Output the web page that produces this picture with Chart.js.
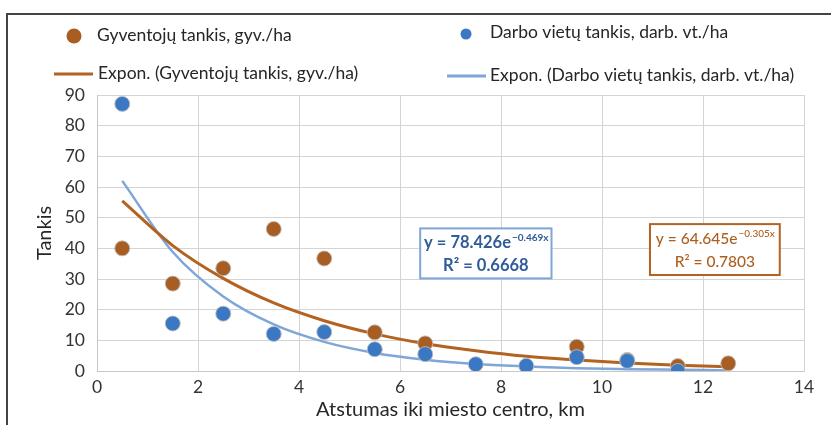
<!DOCTYPE html>
<html>
<head>
<meta charset="utf-8">
<script src="https://cdn.jsdelivr.net/npm/chart.js@4.4.1/dist/chart.umd.min.js"></script>
<style>
  html, body { margin: 0; padding: 0; background: #fff; }
  #wrap { position: relative; width: 831px; height: 425px; }
  #frame { position: absolute; left: 6px; top: 13px; right: 0; bottom: 0;
           border-top: 2px solid #444; border-left: 2px solid #444; pointer-events: none; }
  canvas { position: absolute; left: 0; top: 0; }
</style>
</head>
<body>
<div id="wrap">
  <canvas id="chart" width="831" height="425"></canvas>
  <div id="frame"></div>
</div>
<script>
const distances = [0.5, 1.5, 2.5, 3.5, 4.5, 5.5, 6.5, 7.5, 8.5, 9.5, 10.5, 11.5, 12.5];
const population = [40.0, 28.5, 33.5, 46.3, 36.7, 12.6, 9.0, null, null, 7.9, 3.6, 1.6, 2.5];
const jobs = [87.1, 15.5, 18.7, 12.1, 12.7, 7.1, 5.5, 2.2, 1.7, 4.5, 3.3, 0.0, null];
const populationTrend = [55.5, 40.9, 30.2, 22.2, 16.4, 12.1, 8.9, 6.6, 4.8, 3.6, 2.6, 1.9, 1.4];
const jobsTrend = [62.0, 38.8, 24.3, 15.2, 9.5, 5.9, 3.7, 2.3, 1.5, 0.9, 0.6, 0.4, 0.2];

const labels = [
  "Gyventojų tankis, gyv./ha",
  "Darbo vietų tankis, darb. vt./ha",
  "Expon. (Gyventojų tankis, gyv./ha)",
  "Expon. (Darbo vietų tankis, darb. vt./ha)"
];

const BROWN = "#a85d22";
const BLUE = "#3a78c4";
const BROWN_LINE = "#b3621f";
const BLUE_LINE = "#7ea6d8";
const FONT = "Lato";

function points(ys) {
  return distances.map((x, i) => ({ x: x, y: ys[i] })).filter(p => p.y !== null);
}

// legend drawn at the top, two rows like the original
const legendPlugin = {
  id: "topLegend",
  afterDraw(chart) {
    const ctx = chart.ctx;
    ctx.save();
    ctx.textBaseline = "alphabetic";

    ctx.beginPath();
    ctx.fillStyle = BROWN;
    ctx.arc(74, 36, 7.5, 0, Math.PI * 2);
    ctx.fill();
    ctx.beginPath();
    ctx.fillStyle = BLUE;
    ctx.arc(466, 34, 5.5, 0, Math.PI * 2);
    ctx.fill();

    ctx.lineWidth = 3;
    ctx.strokeStyle = BROWN_LINE;
    ctx.beginPath(); ctx.moveTo(54, 74); ctx.lineTo(93, 74); ctx.stroke();
    ctx.strokeStyle = BLUE_LINE;
    ctx.beginPath(); ctx.moveTo(447, 76); ctx.lineTo(486, 76); ctx.stroke();

    ctx.font = "17.5px " + FONT;
    ctx.fillStyle = "#262626";
    ctx.fillText(labels[0], 97, 41);
    ctx.fillText(labels[1], 490, 38);
    ctx.fillText(labels[2], 98, 79);
    ctx.fillText(labels[3], 490, 81);
    ctx.restore();
  }
};

// trendline equation boxes, anchored in data coordinates
const eqPlugin = {
  id: "equations",
  afterDatasetsDraw(chart) {
    const ctx = chart.ctx;
    const xs = chart.scales.x, ys = chart.scales.y;
    const boxes = [
      { x0: 6.4, x1: 9.0, y0: 46.5, y1: 30.2, color: BLUE_LINE, text: "#2d5c98", weight: "bold",
        size: 16.5, main: "y = 78.426e", sup: "−0.469x", r2: "R² = 0.6668" },
      { x0: 10.95, x1: 13.52, y0: 47.9, y1: 31.3, color: BROWN_LINE, text: "#ad5f1f", weight: "500",
        size: 15.5, main: "y = 64.645e", sup: "−0.305x", r2: "R² = 0.7803" }
    ];
    ctx.save();
    boxes.forEach(b => {
      const l = xs.getPixelForValue(b.x0), r = xs.getPixelForValue(b.x1);
      const t = ys.getPixelForValue(b.y0), bt = ys.getPixelForValue(b.y1);
      ctx.fillStyle = "#fff";
      ctx.fillRect(l, t, r - l, bt - t);
      ctx.lineWidth = 2;
      ctx.strokeStyle = b.color;
      ctx.strokeRect(l, t, r - l, bt - t);

      ctx.fillStyle = b.text;
      ctx.font = b.weight + " " + b.size + "px " + FONT;
      const mw = ctx.measureText(b.main).width;
      ctx.font = b.weight + " 10px " + FONT;
      const sw = ctx.measureText(b.sup).width;
      const cx = (l + r) / 2;
      let sx = cx - (mw + sw) / 2;
      ctx.font = b.weight + " " + b.size + "px " + FONT;
      ctx.textAlign = "left";
      ctx.fillText(b.main, sx, t + 20);
      ctx.font = b.weight + " 10px " + FONT;
      ctx.fillText(b.sup, sx + mw + 1, t + 13);
      ctx.font = b.weight + " " + b.size + "px " + FONT;
      ctx.textAlign = "center";
      ctx.fillText(b.r2, cx, t + 43);
    });
    ctx.restore();
  }
};

const markerBorder = "rgba(190,190,190,0.9)";

new Chart(document.getElementById("chart"), {
  type: "scatter",
  data: {
    datasets: [
      {
        label: labels[1],
        data: points(jobs),
        backgroundColor: BLUE,
        borderColor: markerBorder,
        borderWidth: 1,
        pointRadius: 7.5,
        order: 1
      },
      {
        label: labels[0],
        data: points(population),
        backgroundColor: BROWN,
        borderColor: markerBorder,
        borderWidth: 1,
        pointRadius: 7.5,
        order: 2
      },
      {
        label: labels[2],
        data: points(populationTrend),
        showLine: true,
        borderColor: BROWN_LINE,
        borderWidth: 3,
        pointRadius: 0,
        cubicInterpolationMode: "monotone",
        order: 3
      },
      {
        label: labels[3],
        data: points(jobsTrend),
        showLine: true,
        borderColor: BLUE_LINE,
        borderWidth: 2.5,
        pointRadius: 0,
        cubicInterpolationMode: "monotone",
        order: 4
      }
    ]
  },
  options: {
    responsive: false,
    animation: false,
    layout: { padding: { top: 95, right: 27, left: 0, bottom: 0 } },
    plugins: {
      legend: { display: false },
      tooltip: { enabled: false }
    },
    scales: {
      x: {
        type: "linear",
        min: 0,
        max: 14,
        ticks: { stepSize: 2, padding: 6, color: "#333", font: { family: FONT, size: 17.5 } },
        grid: { color: "#d4d4d4", drawTicks: false },
        border: { color: "#c8c8c8" },
        title: {
          display: true,
          text: "Atstumas iki miesto centro, km",
          color: "#262626",
          font: { family: FONT, size: 20 },
          padding: { top: 0, bottom: 3 }
        },
        afterFit(scale) { scale.height = 54; }
      },
      y: {
        min: 0,
        max: 90,
        ticks: { stepSize: 10, padding: 12, color: "#333", font: { family: FONT, size: 17.5 } },
        grid: { color: "#d4d4d4", drawTicks: false },
        border: { color: "#c8c8c8" },
        title: {
          display: true,
          text: "Tankis",
          color: "#262626",
          font: { family: FONT, size: 20 },
          padding: { top: 33, bottom: 0 }
        },
        afterFit(scale) { scale.width = 97; }
      }
    }
  },
  plugins: [legendPlugin, eqPlugin]
});
</script>
</body>
</html>
